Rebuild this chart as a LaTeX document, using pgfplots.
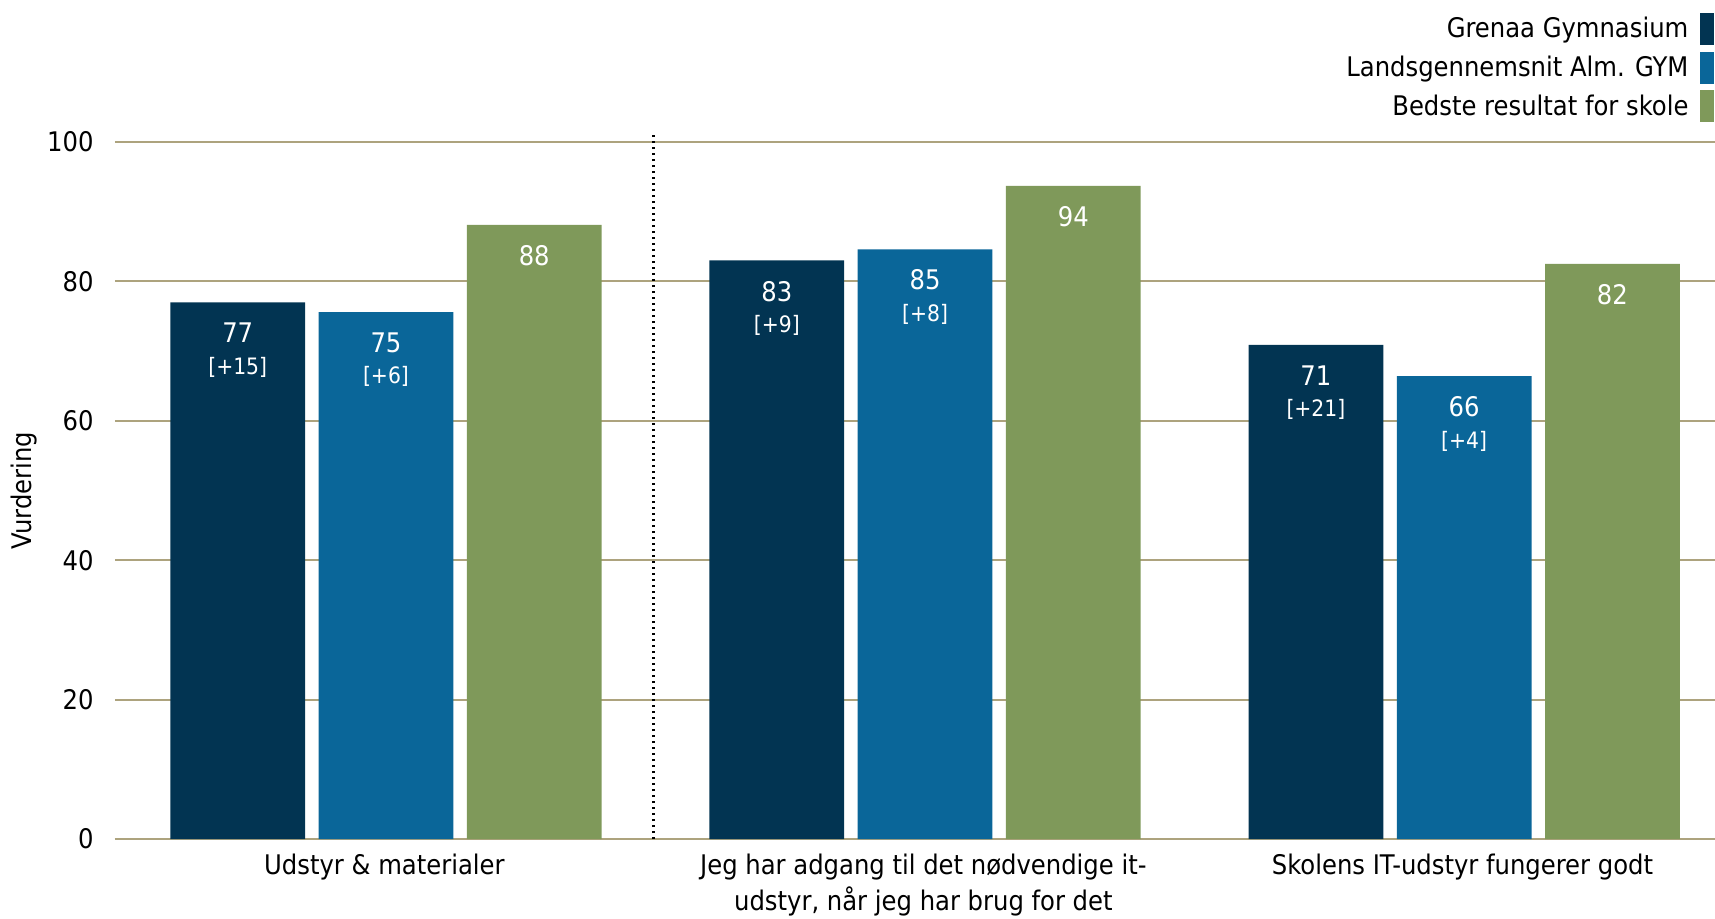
\documentclass[border=0pt]{standalone}
\usepackage{fontspec}
\setmainfont{DejaVu Sans Condensed}
\usepackage{pgfplots}
\usepackage{pgfplotstable}
\pgfplotsset{compat=1.18}
\definecolor{cDark}{HTML}{023452}
\definecolor{cBlue}{HTML}{0A6699}
\definecolor{cGreen}{HTML}{7F995A}
\definecolor{cGrid}{HTML}{ADA37E}
\newcommand{\fnt}{\fontsize{13.5}{18}\selectfont}
\newcommand{\fsm}{\fontsize{11.3}{13}\selectfont}
% x = category index + offset
\pgfplotstableread{
x y
-0.272 77.0
0.728 83.0
1.728 70.9
}\tA
\pgfplotstableread{
x y
0.003 75.6
1.003 84.6
2.003 66.4
}\tB
\pgfplotstableread{
x y
0.278 88.1
1.278 93.7
2.278 82.5
}\tC
\pgfplotsset{mybar/.style={ybar, bar width=0.25, bar shift=0pt, draw=none,
  legend image code/.code={\fill[##1] (0pt,-8pt) rectangle (7pt,8pt);}}}
\newcommand{\vlab}[3]{%
  \node[text=white, font=\fnt, inner sep=0pt, yshift=-15.4pt] at (axis cs:#1,#2) {#3};}
\newcommand{\dlab}[3]{%
  \node[text=white, font=\fsm, inner sep=0pt, yshift=-32.4pt] at (axis cs:#1,#2) {[#3]};}
\begin{document}
\begin{tikzpicture}
\useasboundingbox (0,0) rectangle (857.5pt,459pt);
\begin{axis}[at={(57.4pt,39.5pt)}, anchor=south west, scale only axis,
  width=800pt, height=348.5pt,
  xmin=-0.5, xmax=2.468, ymin=0, ymax=100,
  clip=false,
  axis x line*=bottom, axis y line*=left,
  x axis line style={-, cGrid, line width=1pt},
  y axis line style={draw=none},
  ymajorgrids, grid style={cGrid, line width=1pt},
  major tick length=0pt,
  xtick={0,1,2},
  xticklabels={{Udstyr \& materialer},{Jeg har adgang til det nødvendige it-\\udstyr, når jeg har brug for det},{Skolens IT-udstyr fungerer godt}},
  xticklabel style={align=center, font=\fnt, inner sep=0pt, anchor=north, yshift=-7.5pt},
  ytick={0,20,40,60,80,100},
  yticklabel style={font=\fnt, inner sep=0pt, anchor=east, xshift=-10.4pt},
  /pgf/number format/assume math mode=true,
  ylabel={Vurdering},
  ylabel style={font=\fnt, at={(axis description cs:-0.057,0.5)}, anchor=center},
  legend style={at={(axis description cs:1,1)}, anchor=north east, yshift=64.6pt,
    draw=none, fill=none, inner sep=0pt, row sep=3.3pt, column sep=6pt,
    font=\fnt, nodes={inner sep=0pt}},
  legend cell align=right, legend plot pos=right,
]
\addplot[mybar, fill=cDark] table[x=x,y=y]{\tA};
\addlegendentry{Grenaa Gymnasium}
\addplot[mybar, fill=cBlue] table[x=x,y=y]{\tB};
\addlegendentry{Landsgennemsnit Alm. GYM}
\addplot[mybar, fill=cGreen] table[x=x,y=y]{\tC};
\addlegendentry{Bedste resultat for skole}
\draw[black, line width=1.4pt, dash pattern=on 1.1pt off 1.9pt] (axis cs:0.5,0) -- (axis cs:0.5,101);
% value labels
\vlab{-0.272}{77.0}{77}\dlab{-0.272}{77.0}{+15}
\vlab{0.003}{75.6}{75}\dlab{0.003}{75.6}{+6}
\vlab{0.278}{88.1}{88}
\vlab{0.728}{83.0}{83}\dlab{0.728}{83.0}{+9}
\vlab{1.003}{84.6}{85}\dlab{1.003}{84.6}{+8}
\vlab{1.278}{93.7}{94}
\vlab{1.728}{70.9}{71}\dlab{1.728}{70.9}{+21}
\vlab{2.003}{66.4}{66}\dlab{2.003}{66.4}{+4}
\vlab{2.278}{82.5}{82}
\end{axis}
\end{tikzpicture}
\end{document}
